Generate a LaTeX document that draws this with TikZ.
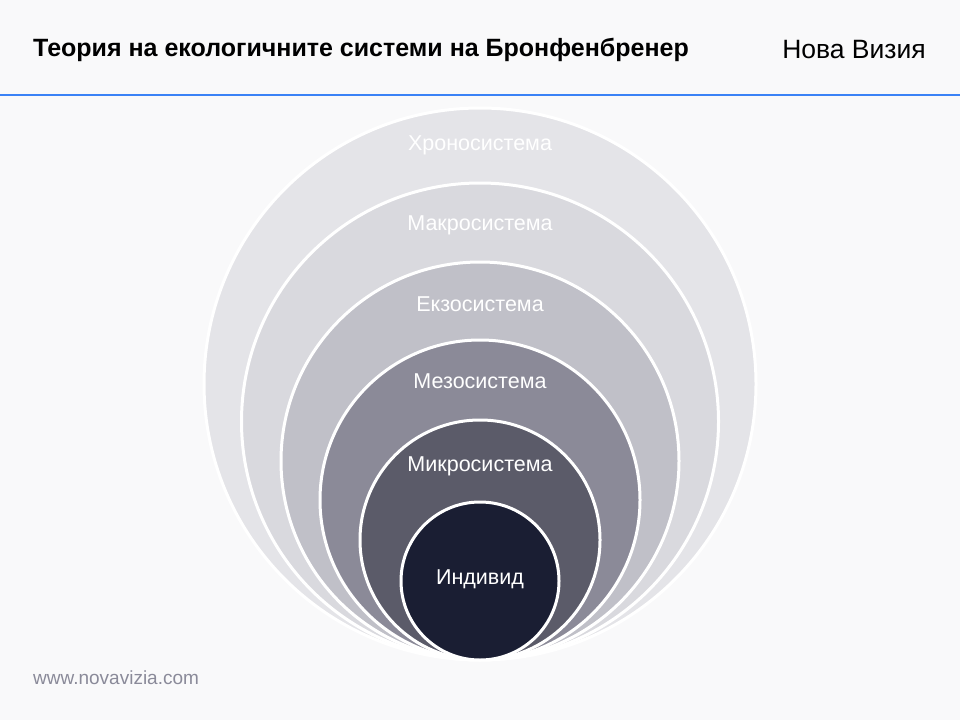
\documentclass[tikz,border=0pt]{standalone}
\usepackage{fontspec}
\setmainfont{Liberation Sans}
\definecolor{bgc}{HTML}{F9F9FA}
\definecolor{bluel}{HTML}{3B82F6}
\definecolor{cchrono}{HTML}{E4E4E8}
\definecolor{cmakro}{HTML}{D9D9DE}
\definecolor{cekzo}{HTML}{C0C0C8}
\definecolor{cmezo}{HTML}{8B8A98}
\definecolor{cmikro}{HTML}{5B5B69}
\definecolor{cind}{HTML}{1A1E33}
\definecolor{footc}{HTML}{8A8A99}
\tikzset{
  ring/.style={circle, draw=white, line width=3pt, inner sep=0pt, outer sep=0pt},
  lbl/.style={text=white, font=\fontsize{21.5}{25}\selectfont, inner sep=0pt},
}
\begin{document}
\begin{tikzpicture}[x=1pt,y=-1pt]
\fill[bgc] (0,0) rectangle (960,720);
\useasboundingbox (0,0) rectangle (960,720);
\coordinate (la) at (0,95);
\coordinate (lb) at (960,95);
\draw[bluel, line width=2pt] (la) -- (lb);
\node[anchor=west, inner sep=0pt, font=\fontsize{25}{30}\selectfont\bfseries] (title) at (33,50) {Теория на екологичните системи на Бронфенбренер};
\node[anchor=east, inner sep=0pt, font=\fontsize{26.5}{30}\selectfont] (brand) at (926,50) {Нова Визия};
\node[ring, fill=cchrono, minimum size=552] (chrono) at (480,384) {};
\node[ring, fill=cmakro, minimum size=477] (makro) at (480,421.5) {};
\node[ring, fill=cekzo, minimum size=398] (ekzo) at (480,461) {};
\node[ring, fill=cmezo, minimum size=320] (mezo) at (480,500) {};
\node[ring, fill=cmikro, minimum size=240] (mikro) at (480,540) {};
\node[ring, fill=cind, minimum size=158] (ind) at (480,581) {};
\node[lbl] (tchrono) at (480,145) {Хроносистема};
\node[lbl] (tmakro) at (480,225) {Макросистема};
\node[lbl] (tekzo) at (480,304) {Екзосистема};
\node[lbl] (tmezo) at (480,381) {Мезосистема};
\node[lbl] (tmikro) at (480,466) {Микросистема};
\node[lbl] (tind) at (480,579) {Индивид};
\node[anchor=west, inner sep=0pt, text=footc, font=\fontsize{19}{22}\selectfont] (foot) at (33,678) {www.novavizia.com};
\end{tikzpicture}
\end{document}
